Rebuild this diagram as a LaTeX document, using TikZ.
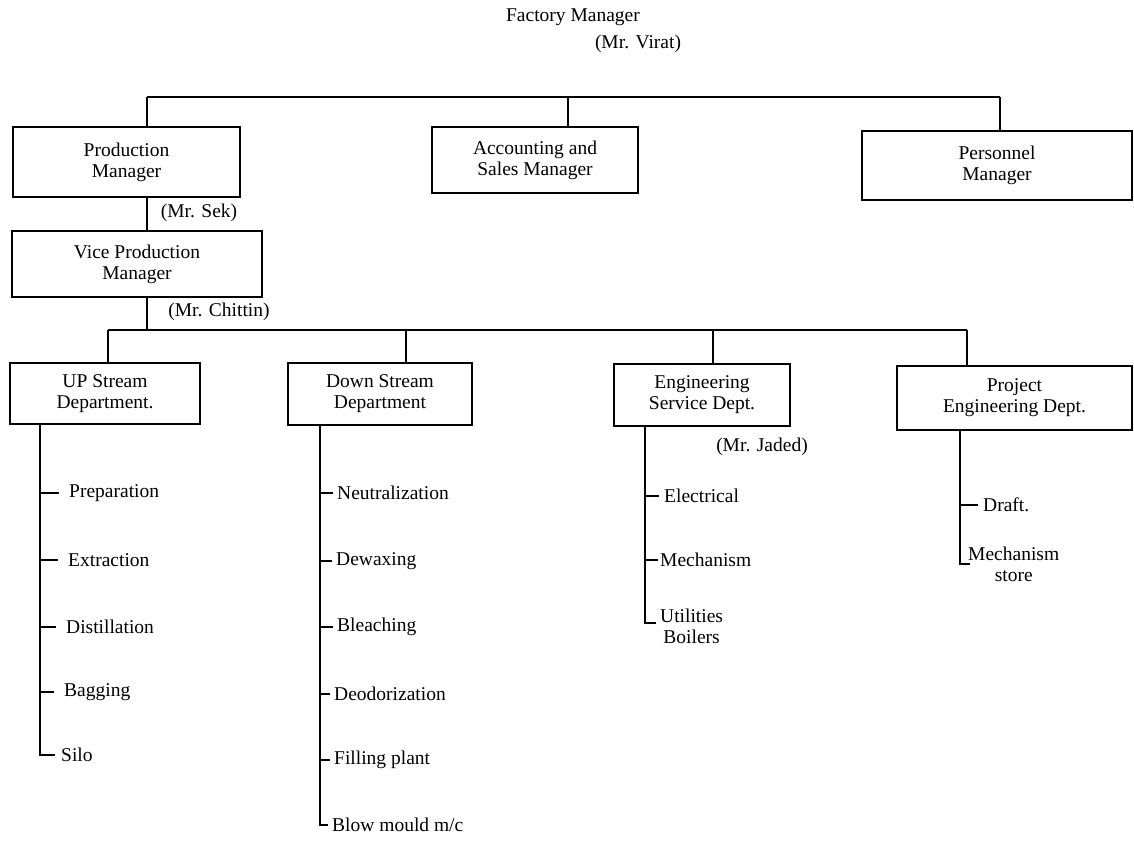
\documentclass[tikz,border=0pt]{standalone}
\usepackage{fontspec}
\setmainfont{Liberation Serif}
\begin{document}
\begin{tikzpicture}[x=1pt,y=-1pt,
  every node/.style={font=\fontsize{19.5}{21}\selectfont},
  box/.style={draw, line width=2.2pt, align=center, inner sep=0pt},
  lbl/.style={inner sep=0pt},
  item/.style={inner sep=0pt, anchor=west, align=center},
  conn/.style={line width=1.6pt}]
\fill[white] (0,0) rectangle (1134,840);
\useasboundingbox (0,0) rectangle (1134,840);
% title
\node[lbl] (fm) at (573,17) {Factory Manager};
\node[lbl] (virat) at (638,44) {(Mr. Virat)};
% level 1 boxes
\node[box, minimum width=227pt, minimum height=70pt] (prod) at (126.5,162) {Production\\Manager};
\node[box, minimum width=206pt, minimum height=66pt] (acc) at (535,160) {Accounting and\\Sales Manager};
\node[box, minimum width=270pt, minimum height=69pt] (pers) at (997,165.5) {Personnel\\Manager};
\coordinate (busL) at (147,97);
\coordinate (busA) at (568,97);
\coordinate (busR) at (1000,97);
\draw[conn] (busL) -- (busR);
\draw[conn] (busL) -- (busL |- prod.north);
\draw[conn] (busA) -- (busA |- acc.north);
\draw[conn] (busR) -- (busR |- pers.north);
% vice
\node[box, minimum width=250pt, minimum height=66pt] (vice) at (137,264) {Vice Production\\Manager};
\draw[conn] (busL |- prod.south) -- (busL |- vice.north);
\node[lbl] (sek) at (199,213) {(Mr. Sek)};
\node[lbl] (chittin) at (219,312) {(Mr. Chittin)};
% level 3
\node[box, minimum width=190pt, minimum height=61pt] (up) at (105,393.5) {UP Stream\\Department.};
\node[box, minimum width=184pt, minimum height=62pt] (down) at (380,394) {Down Stream\\Department};
\node[box, minimum width=176pt, minimum height=62pt] (eng) at (702,395) {Engineering\\Service Dept.};
\node[box, minimum width=235pt, minimum height=64pt] (proj) at (1014.5,398) {Project\\Engineering Dept.};
\coordinate (bUp) at (108,330);
\coordinate (bDown) at (406,330);
\coordinate (bEng) at (713,330);
\coordinate (bProj) at (967,330);
\coordinate (bVice) at (147,330);
\draw[conn] (bUp) -- (bProj);
\draw[conn] (bVice |- vice.south) -- (bVice);
\draw[conn] (bUp) -- (bUp |- up.north);
\draw[conn] (bDown) -- (bDown |- down.north);
\draw[conn] (bEng) -- (bEng |- eng.north);
\draw[conn] (bProj) -- (bProj |- proj.north);
\node[lbl] (jaded) at (762,447) {(Mr. Jaded)};
% UP list
\coordinate (sU) at (40,0);
\node[item] (prep) at (69,493) {Preparation};
\node[item] (extr) at (68,560) {Extraction};
\node[item] (dist) at (66,627) {Distillation};
\node[item] (bag) at (64,692) {Bagging};
\node[item] (silo) at (61,755) {Silo};
\draw[conn] (sU |- up.south) -- (sU |- silo.west) -- ([xshift=-6pt]silo.west);
\foreach \n in {prep,extr,dist,bag}
  \draw[conn] (sU |- \n.west) -- ([xshift=-10pt]\n.west);
% Down list
\coordinate (sD) at (320,0);
\node[item] (neut) at (337,493) {Neutralization};
\node[item] (dewax) at (336,561) {Dewaxing};
\node[item] (bleach) at (337,627) {Bleaching};
\node[item] (deod) at (334,694) {Deodorization};
\node[item] (fill) at (334,760) {Filling plant};
\node[item] (blow) at (332,825) {Blow mould m/c};
\draw[conn] (sD |- down.south) -- (sD |- blow.west) -- ([xshift=-4pt]blow.west);
\foreach \n in {neut,dewax,bleach,deod,fill}
  \draw[conn] (sD |- \n.west) -- ([xshift=-4pt]\n.west);
% Eng list
\coordinate (sE) at (645,0);
\node[item] (elec) at (664,496) {Electrical};
\node[item] (mech) at (660,560) {Mechanism};
\node[item] (util) at (660,626) {Utilities\\Boilers};
\draw[conn] (sE |- eng.south) -- ([yshift=3pt]sE |- util.west) -- ([yshift=3pt,xshift=-4pt]util.west);
\draw[conn] (sE |- elec.west) -- ([xshift=-5pt]elec.west);
\draw[conn] (sE |- mech.west) -- ([xshift=-2pt]mech.west);
% Project list
\coordinate (sP) at (960,0);
\node[item] (draft) at (983,505) {Draft.};
\node[item] (mstore) at (968,564) {Mechanism\\store};
\draw[conn] (sP |- proj.south) -- (sP |- mstore.west) -- ([xshift=10pt]sP |- mstore.west);
\draw[conn] (sP |- draft.west) -- ([xshift=-5pt]draft.west);
\end{tikzpicture}
\end{document}
